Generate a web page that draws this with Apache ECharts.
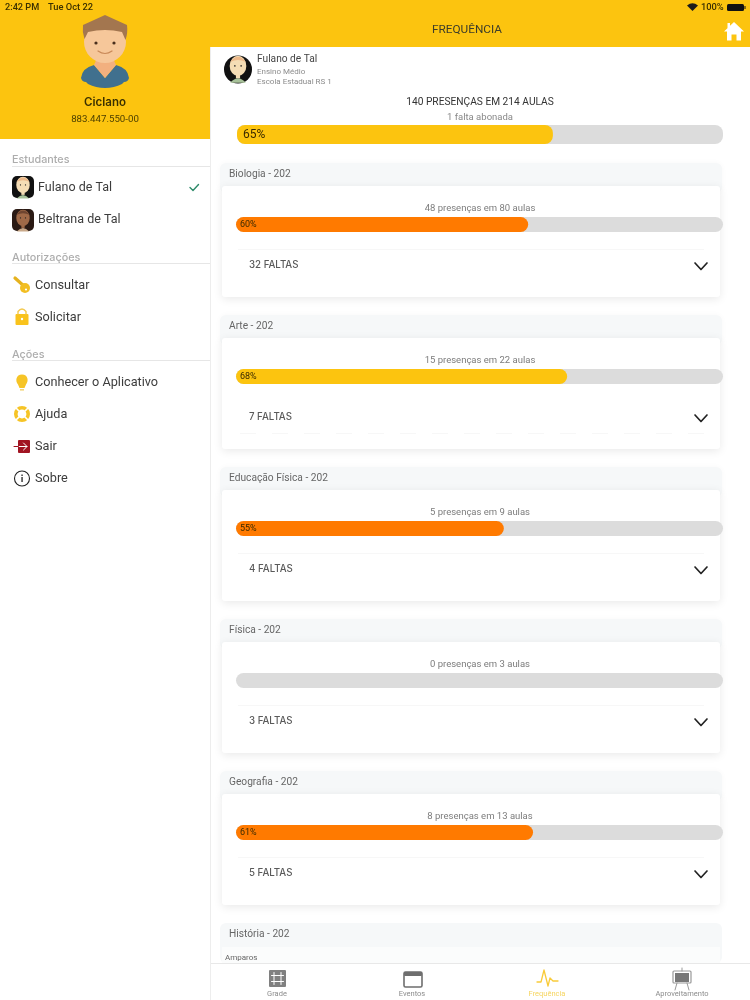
<!DOCTYPE html>
<html>
<head>
<meta charset="utf-8">
<title>Frequência</title>
<script src="https://cdn.jsdelivr.net/npm/echarts@6/dist/echarts.min.js"></script>
<style>
html,body{margin:0;padding:0;background:#fff;}
#main{width:750px;height:1000px;}
</style>
</head>
<body>
<div id="main"></div>
<script>
// dados
var overallValue = [65];
var overallText = '140 PRESENÇAS EM 214 AULAS';
var overallNote = '1 falta abonada';
var subjects = ['Biologia - 202', 'Arte - 202', 'Educação Física - 202', 'Física - 202', 'Geografia - 202'];
var percents = [60, 68, 55, 0, 61];
var presences = ['48 presenças em 80 aulas', '15 presenças em 22 aulas', '5 presenças em 9 aulas', '0 presenças em 3 aulas', '8 presenças em 13 aulas'];
var absences = ['32 FALTAS', '7 FALTAS', '4 FALTAS', '3 FALTAS', '5 FALTAS'];
var tabs = ['Grade', 'Eventos', 'Frequência', 'Aproveitamento'];

var YELLOW = '#FCC40F';
var ORANGE = '#FF7A00';
var FONT = 'Roboto';
var WIDE_FONT = 'Inter';
var els = [];
var shapeCount = 0;

function rect(x, y, w, h, fill, r, z, extra){
    var style = {fill: fill};
    for(var k in extra){ style[k] = extra[k]; }
    els.push({type: 'rect', z: z || 0, shape: {x: x, y: y, width: w, height: h, r: r || 0}, style: style});
}
function circle(x, y, r, fill, z, stroke, lw){
    els.push({type: 'circle', z: z || 1, shape: {cx: x, cy: y, r: r}, style: {fill: fill || 'none', stroke: stroke, lineWidth: lw || 1}});
}
// o componente graphic nao tem tipo path, entao registra cada icone como shape
function path(d, fill, z, stroke, lw){
    var name = 'icon' + (shapeCount++);
    echarts.graphic.registerShape(name, echarts.graphic.extendPath(d));
    els.push({type: name, z: z || 1, style: {fill: fill || 'none', stroke: stroke || 'none', lineWidth: lw || 1, lineCap: 'round', lineJoin: 'round'}});
}
function ellipse(cx, cy, rx, ry, fill, z){
    path('M' + (cx-rx) + ' ' + cy + 'a' + rx + ' ' + ry + ' 0 1 0 ' + (2*rx) + ' 0a' + rx + ' ' + ry + ' 0 1 0 ' + (-2*rx) + ' 0Z', fill, z);
}
function txt(x, y, text, size, color, align, weight, font){
    els.push({type: 'text', z: 7, x: x, y: y + 0.8, style: {
        text: text, fontFamily: font || FONT, fontSize: size, fill: color, align: align || 'left', verticalAlign: 'middle', fontWeight: weight || 'normal'
    }});
}

// avatar das crianças, cx/cy = centro
function kidFace(cx, cy, s, skin, top, shirt){
    path('M' + (cx-6*s) + ' ' + (cy+11*s) + 'Q' + cx + ' ' + (cy+4*s) + ' ' + (cx+6*s) + ' ' + (cy+11*s) + 'Z', shirt, 2);
    ellipse(cx, cy-2*s, 6.4*s, 7.8*s, skin, 2);
    rect(cx-1.6*s, cy+4*s, 3.2*s, 3.5*s, skin, 0, 2);
    path('M' + (cx-6*s) + ' ' + (cy-5*s) + 'Q' + cx + ' ' + (cy-13*s) + ' ' + (cx+6*s) + ' ' + (cy-5*s) + 'Q' + cx + ' ' + (cy-8*s) + ' ' + (cx-6*s) + ' ' + (cy-5*s) + 'Z', top, 3);
    circle(cx-2.4*s, cy-2*s, 0.6*s, '#222', 3);
    circle(cx+2.4*s, cy-2*s, 0.6*s, '#222', 3);
}

// topo e barra lateral
rect(0, 0, 750, 47, YELLOW, 0, 0);
rect(0, 0, 210, 139, YELLOW, 0, 0);
rect(210, 47, 1, 953, '#EDEDED', 0, 6);
txt(5, 7, '2:42 PM', 9.2, '#3a3000', 'left', 500);
txt(48, 7, 'Tue Oct 22', 9.3, '#3a3000', 'left', 500);
txt(701, 7, '100%', 9.3, '#3a3000', 'left', 500);
path('M687 5.5Q692.5 1 698 5.5L692.5 11Z', '#1c1c1c');
rect(727, 4, 17, 7, '#111', 1.5, 1);
rect(744.5, 6, 1, 3, '#111', 0, 1);
txt(467, 29.5, 'FREQUÊNCIA', 11.8, '#3d3d2a', 'center');
path('M724 31.5L734 22L744 31.5H741V40.5H736.5V34.5H731.5V40.5H727V31.5Z', '#fff', 2);
rect(727.5, 23, 2.5, 5, '#fff', 0, 2);

// avatar principal
path('M81 78Q82 68 94 65L105 78L116 65Q128 68 129 78Q128 82 124 82L122 84Q114 88 105 88Q96 88 88 84L86 82Q82 82 81 78Z', '#40708E');
path('M94 65L105 78L116 65L112 56H98Z', '#F2B07F');
ellipse(105, 42, 21, 21, '#F6C79A', 2);
path('M83 25Q94 20 105 15Q116 20 127 25Q128 33 125.5 40L122 32Q105 28 88 32L84.5 39Q82 32 83 25Z', '#A3764F', 3);
circle(96, 43, 1.6, '#4a2f1d', 4);
circle(114, 43, 1.6, '#4a2f1d', 4);
path('M98 51Q105 56 112 51', 'none', 4, '#C98958', 1.2);
txt(105, 102, 'Ciclano', 11.5, '#3a3000', 'center', 600, WIDE_FONT);
txt(105, 119, '883.447.550-00', 9.7, '#4d4000', 'center');

// menu
var sections = [['Estudantes', 159, 166], ['Autorizações', 256.5, 263], ['Ações', 354, 360]];
sections.forEach(function(s){
    txt(12, s[1], s[0], 10.8, '#ADADAD', 'left', 500, WIDE_FONT);
    rect(12, s[2], 198, 1, '#E6E6E6', 0, 0);
});
var menuA = [['Fulano de Tal', 187.5], ['Beltrana de Tal', 219.5]];
menuA.forEach(function(m){ txt(38, m[1], m[0], 12.5, '#3c3c3c'); });
var menuB = [['Consultar', 285], ['Solicitar', 317], ['Conhecer o Aplicativo', 382], ['Ajuda', 414], ['Sair', 446.5], ['Sobre', 478.5]];
menuB.forEach(function(m){ txt(35, m[1], m[0], 12.7, '#3c3c3c'); });

rect(12, 176, 22, 22, '#111', 5, 1);
kidFace(23, 187, 1.05, '#F5DDB5', '#EDB98A', '#A8C29A');
rect(12, 209, 22, 22, '#2a1a14', 5, 1);
kidFace(23, 220, 1.05, '#A06A48', '#6e4530', '#C9A98A');
path('M190 187.5L193 190.5L198.5 184.5', 'none', 2, '#2E8B6A', 1.4);

// icones do menu
path('M15 278L25 287', 'none', 1, '#E5B21F', 3.2);
circle(25, 288, 5, '#F2BE22', 2);
circle(26, 289.5, 1.1, '#fff', 3);
rect(15.5, 314, 13, 11, '#F9C31C', 1, 1);
path('M18 314V311.5Q22 306.5 26 311.5V314', 'none', 1, '#F3C94F', 1.4);
circle(22, 319, 1.2, '#fff', 2);
path('M22 374.5C16 374.5 15 381 18 384.5L19.5 388H24.5L26 384.5C29 381 28 374.5 22 374.5Z', '#F6C426');
rect(20, 389, 4, 1.6, '#F3D577', 0, 1);
circle(22, 414, 6.2, '#fff', 1, '#F6C426', 3.6);
path('M16.5 408.5L19.5 411.5M27.5 408.5L24.5 411.5M16.5 419.5L19.5 416.5M27.5 419.5L24.5 416.5', 'none', 2, '#fff', 1.6);
rect(18, 440, 12, 13, '#A11422', 1, 1);
path('M19 446.5H27M23.5 443L27 446.5L23.5 450', 'none', 2, '#fff', 1);
path('M14 446.5H18', 'none', 3, '#A11422', 1);
circle(22, 478.5, 7.5, 'none', 1, '#222', 1.1);
rect(21.4, 477, 1.3, 5, '#222', 0, 1);
rect(21.4, 474.6, 1.3, 1.4, '#222', 0, 1);

// cabeçalho do aluno
circle(238, 69.5, 14, '#111', 1);
kidFace(238, 68.5, 1.3, '#F5DDB5', '#EDB98A', '#A8C29A');
txt(257, 59, 'Fulano de Tal', 10.2, '#444');
txt(257, 71, 'Ensino Médio', 8, '#8c8c8c');
txt(257, 81, 'Escola Estadual RS 1', 8, '#8c8c8c');
txt(480, 102, overallText, 10.2, '#333', 'center');
txt(480, 116.5, overallNote, 9.5, '#888', 'center');

// cartões
var STEP = 152;
subjects.forEach(function(name, i){
    var y = STEP * i;
    rect(220, 163 + y, 502, 30, '#F6F8F9', 6, 0, {shadowBlur: 6, shadowColor: 'rgba(0,0,0,0.03)'});
    rect(222, 186 + y, 498, 111, '#fff', 3, 1, {shadowBlur: 10, shadowColor: 'rgba(0,0,0,0.09)', shadowOffsetY: 2});
    txt(229, 174 + y, name, 10.2, '#666');
    txt(480, 208 + y, presences[i], 9.5, '#7c7c7c', 'center');
    if(i != 1){
        rect(238, 249 + y, 466, 1, '#F7F7F7', 0, 1);
    }
    txt(249, 264.5 + y, absences[i], 9.7, '#5a5a5a', 'left', 500, WIDE_FONT);
    path('M695 ' + (263 + y) + 'L701 ' + (269.5 + y) + 'L707 ' + (263 + y), 'none', 2, '#222', 1.7);
});
for(var d = 0; d < 15; d++){
    rect(240 + d * 32, 433, 16, 1, '#F7F7F7', 0, 1);
}
rect(220, 923, 502, 40, '#F6F8F9', 6, 0);
txt(229, 934, 'História - 202', 10.2, '#666');
rect(222, 947, 498, 20, '#FBFCFC', 0, 1);
txt(225, 957, 'Amparos', 8, '#666');

// barra de abas
rect(210, 963, 540, 37, '#fff', 0, 4);
rect(210, 963, 540, 1, '#E8E8E8', 0, 4);
var tabX = [277, 412, 547, 682];
tabs.forEach(function(t, i){
    txt(tabX[i], 993.5, t, 7.5, i == 2 ? '#F6D560' : '#8c8c8c', 'center');
});
rect(269, 970, 17, 17, '#808080', 1, 5);
path('M274 972.5V984.5M281 972.5V984.5M271.5 975.5H283.5M271.5 981.5H283.5', 'none', 6, '#fff', 1);
rect(404, 972, 18, 15, '#fff', 1.5, 5, {stroke: '#6e6e6e', lineWidth: 1.6});
rect(404, 972, 18, 4, '#6e6e6e', 1, 6);
path('M537 982H541L544 970L548 986L550 978L553 981H558', 'none', 6, '#F9CB3A', 1.3);
rect(673, 971, 18, 12, '#fff', 1, 5, {stroke: '#999', lineWidth: 1.2});
rect(675, 973, 14, 9, '#777', 0, 6);
path('M675 990L677 983M689 990L687 983M682 968V971', 'none', 6, '#999', 1);

// barras de progresso, uma grid por barra
var allValues = overallValue.concat(percents);
var tops = [125, 217, 369, 521, 673, 825];
var heights = [19, 15, 15, 15, 15, 15];
var lefts = [237, 236, 236, 236, 236, 236];
var grids = [], xAxes = [], yAxes = [], series = [];

allValues.forEach(function(v, i){
    grids.push({left: lefts[i], top: tops[i], width: 723 - lefts[i], height: heights[i], containLabel: false});
    xAxes.push({type: 'value', gridIndex: i, min: 0, max: 100, show: false});
    yAxes.push({type: 'category', gridIndex: i, data: [''], show: false});
    series.push({
        type: 'bar',
        xAxisIndex: i,
        yAxisIndex: i,
        data: [v],
        barWidth: '100%',
        z: 3,
        showBackground: true,
        backgroundStyle: {color: '#DCDCDC', borderRadius: 8},
        itemStyle: {color: v >= 65 ? YELLOW : ORANGE, borderRadius: 8},
        label: {
            show: v > 0,
            position: 'insideLeft',
            distance: i == 0 ? 6 : 4,
            formatter: '{c}%',
            fontFamily: FONT,
            fontSize: i == 0 ? 12 : 9,
            color: '#3a2a00'
        },
        silent: true
    });
});

var myChart = echarts.init(document.getElementById('main'));
myChart.setOption({
    animation: false,
    backgroundColor: '#fff',
    grid: grids,
    xAxis: xAxes,
    yAxis: yAxes,
    series: series,
    graphic: {elements: els}
});
</script>
</body>
</html>
